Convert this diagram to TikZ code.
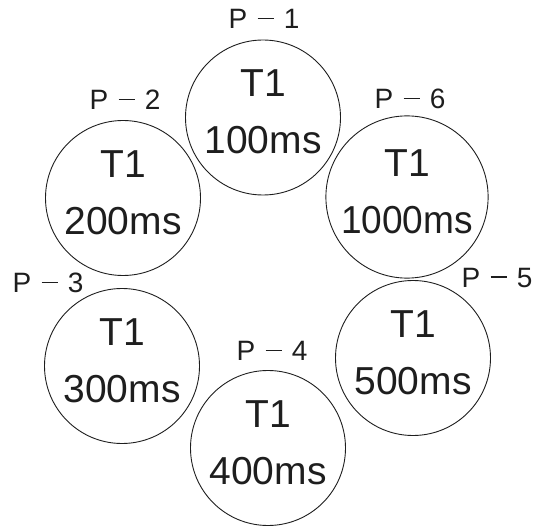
\documentclass[tikz,border=0pt]{standalone}
\usepackage{graphicx}
\usepackage{fontspec}
\setmainfont{Liberation Sans}
\usetikzlibrary{positioning}
\definecolor{ink}{RGB}{30,30,30}
\newcommand{\pname}[1]{P\hspace{0.37em}\rule[0.34em]{0.57em}{1.6pt}\hspace{0.37em}#1}

\begin{document}
\begin{tikzpicture}[x=1pt, y=-1pt, every node/.style={inner sep=0pt, text=ink},
  task/.style={draw=ink, line width=0.9pt, circle, minimum size=155pt, align=center,
    font=\fontsize{39}{57}\selectfont, text depth=11pt},
  proc/.style={font=\fontsize{28}{30}\selectfont}]
\useasboundingbox (0,0) rectangle (537,526);
\node[task] (t1) at (263,117.5) {T1\\100ms};
\node[task] (t2) at (123,198) {T1\\200ms};
\node[task] (t3) at (122,366) {T1\\300ms};
\node[task] (t4) at (268,448) {T1\\400ms};
\node[task] (t5) at (413,358) {T1\\500ms};
\node[task] (t6) at (407,197) {T1\\\scalebox{0.95}[1]{1000ms}};
\node[proc] (p1) at (264,19) {\pname{1}};
\node[proc] (p2) at (125,100) {\pname{2}};
\node[proc] (p3) at (48,283) {\pname{3}};
\node[proc] (p4) at (272,351) {\pname{4}};
\node[proc] (p5) at (497,278) {\pname{5}};
\node[proc] (p6) at (410,99) {\pname{6}};
\end{tikzpicture}
\end{document}
